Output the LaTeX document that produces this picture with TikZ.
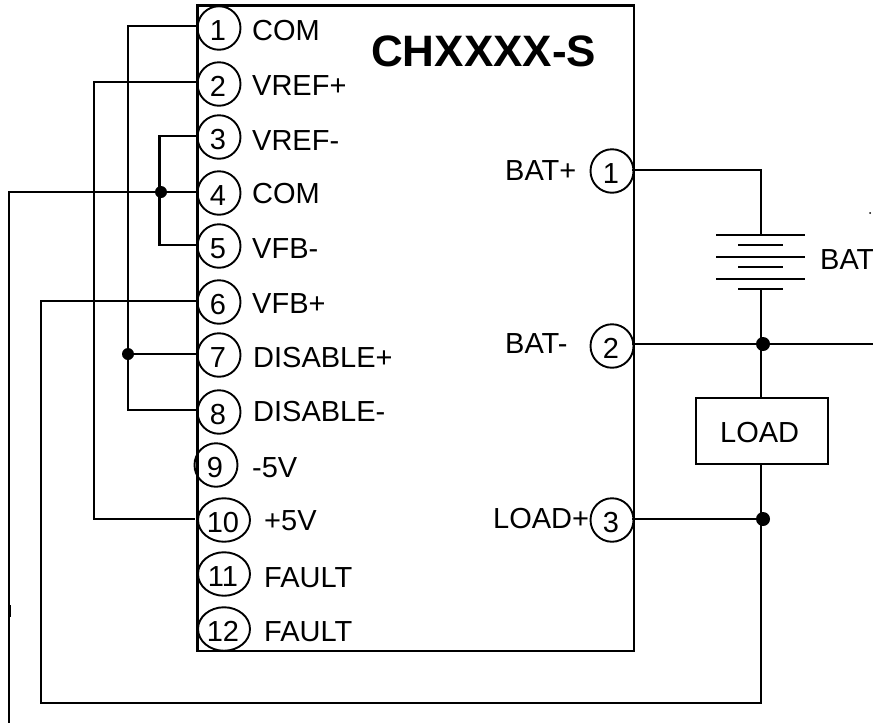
\documentclass[tikz,border=0pt]{standalone}
\usepackage{fontspec}
\setmainfont{Liberation Sans}
\usetikzlibrary{shapes.geometric}
\tikzset{
  wire/.style={line width=2.1pt,line cap=rect,line join=miter},
  pin/.style={ellipse,draw,line width=1.9pt,outer sep=0pt,minimum width=43pt,minimum height=43.5pt,inner sep=0pt},
  widepin/.style={pin,minimum width=52pt},
  num/.style={font=\fontsize{29}{31}\selectfont,inner sep=0pt},
  txt/.style={font=\fontsize{29}{31}\selectfont,inner sep=0pt,anchor=base west},
  dotj/.style={circle,fill=black,inner sep=0pt,outer sep=0pt,minimum size=12pt},
  bigdot/.style={dotj,minimum size=14pt},
  cell/.style={line width=1.9pt}
}
\begin{document}
\begin{tikzpicture}[x=1pt,y=-1pt]
\useasboundingbox (0,0) rectangle (873,723);
% module body
\node[draw,line width=2.1pt,outer sep=0pt,minimum width=436.5pt,minimum height=645.5pt,inner sep=0pt,anchor=north west] (box) at (197.5,5.5) {};
\node[inner sep=0pt,anchor=base west,font=\fontsize{44}{46}\selectfont\bfseries] (title) at (371,66) {CHXXXX-S};
% left pins
\foreach \n/\cx/\cy/\st in {1/219/28/pin,2/219/84/pin,3/219/137/pin,4/219/193/pin,5/219/246/pin,6/219/302/pin,7/219/355/pin,8/219/412/pin,9/216/465/pin,10/224/520/widepin,11/224/574/widepin,12/224/629/widepin}{
  \node[\st] (p\n) at (\cx,\cy) {};
  \node[num] (pn\n) at (\cx-1,\cy+2.7) {\n};
}
% left texts
\node[txt] (t1) at (252,40) {COM};
\node[txt] (t2) at (252,95) {VREF+};
\node[txt] (t3) at (252,150) {VREF-};
\node[txt] (t4) at (252,203) {COM};
\node[txt] (t5) at (252,258) {VFB-};
\node[txt] (t6) at (252,313) {VFB+};
\node[txt] (t7) at (253,367) {DISABLE+};
\node[txt] (t8) at (253,421) {DISABLE-};
\node[txt] (t9) at (252,477) {-5V};
\node[txt] (t10) at (264,530) {+5V};
\node[txt] (t11) at (264,587) {FAULT};
\node[txt] (t12) at (264,641) {FAULT};
% right pins
\foreach \n/\cy in {1/171,2/346,3/520}{
  \node[pin] (q\n) at (612,\cy) {};
  \node[num] (qn\n) at (611,\cy+2.7) {\n};
}
\node[txt] (r1) at (505,180) {BAT+};
\node[txt] (r2) at (505,353) {BAT-};
\node[txt] (r3) at (493,528) {LOAD+};
% load and battery
\node[draw,line width=2.1pt,outer sep=0pt,minimum width=131.5pt,minimum height=66pt,inner sep=0pt] (load) at (762,431) {};
\node[txt] (loadt) at (720,442) {LOAD};
\node[txt] (batt) at (820,269) {BAT};
\coordinate (bt) at (761,235);
\coordinate (bb) at (761,289);
\draw[cell] (716,235) -- (805,235);
\draw[cell] (738,245) -- (783,245);
\draw[cell] (716,257) -- (805,257);
\draw[cell] (738,267) -- (783,267);
\draw[cell] (716,279) -- (805,279);
\draw[cell] (738,289) -- (783,289);
% junctions
\node[dotj] (j4) at (161,192) {};
\node[dotj] (j7) at (128,354) {};
\node[bigdot] (j2) at (763,344) {};
\node[bigdot] (j3) at (763,519) {};
\coordinate (e2) at (873,344);
\coordinate (end4) at (9,723);
% left wiring
\draw[wire] ([shift={(-3,-2)}]p1.west) -| (j7.center);
\draw[wire] (j7.center) -- ([shift={(-3,-1)}]p7.west);
\draw[wire] (j7.center) |- ([shift={(-3,-2)}]p8.west);
\draw[wire] ([shift={(-3,-2)}]p2.west) -| (94,519) -- ([shift={(-4,-1)}]p10.west);
\draw[wire] ([shift={(-3,-1)}]p3.west) -| (159.5,245) -- ([shift={(-3,-1)}]p5.west);
\draw[wire] ([shift={(-3,-1)}]p4.west) -- (j4.center) -- (9,192) -- (end4);
\draw[line width=3pt] (9,605) -- (9,617);
\draw[wire] ([shift={(-3,-1)}]p6.west) -| (41,703) -| (761,519);
% right wiring
\draw[wire] (q1.east |- 0,170) -| (bt);
\draw[wire] (bb) -- (761,398);
\draw[wire] (q2.east |- j2) -- (j2.center) -- (e2);
\draw[wire] (load.south -| bb) -- (761,519);
\draw[wire] (q3.east |- j3) -- (j3.center);
% small speck
\fill (870,213) circle (1pt);
\end{tikzpicture}
\end{document}
